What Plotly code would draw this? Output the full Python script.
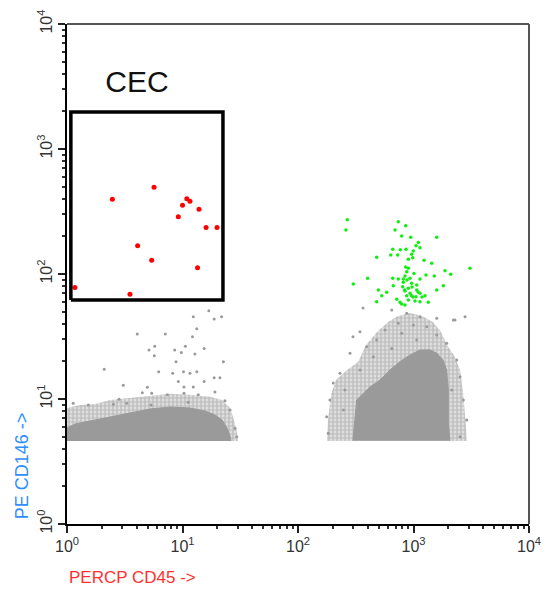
import plotly.graph_objects as go

# ---------------- data ----------------
# CEC gate (PERCP CD45, PE CD146)
gate_x = [1.08, 22.4, 22.4, 1.08, 1.08]
gate_y = [62, 62, 1977, 1977, 62]
gate_label = "CEC"
gate_label_x = [4.04]
gate_label_y = [3311]

# CEC events (red)
cec_x = [2.47, 5.67, 10.9, 11.6, 10.0, 9.2, 13.9, 16.0, 19.9, 4.09, 5.41, 13.5, 1.17, 3.51]
cec_y = [396, 494, 400, 382, 355, 287, 329, 236, 236, 168, 129, 112, 78, 69]

# leukocyte events (green)
leu_x = [267, 260, 738, 856, 692, 790, 946, 1588, 1101, 1051, 1138, 661, 769, 861, 996,
         964, 635, 730, 480, 984, 902, 1233, 1438, 856, 902, 3084, 1875, 873, 1010, 2099,
         1514, 661, 738, 816, 933, 1138, 1283, 401, 816, 964, 1066, 806, 668, 1812, 301,
         902, 1066, 844, 1588, 586, 496, 933, 1138, 1259, 531, 873, 964, 1051, 716, 902,
         1030, 480, 1343, 790, 844, 764, 1138, 839, 971, 1094, 990, 1185, 879, 844]
leu_y = [272, 225, 262, 243, 225, 201, 197, 197, 179, 168, 162, 158, 156, 158, 153,
         144, 142, 142, 136, 135, 131, 129, 122, 114, 111, 111, 106, 104, 101, 99.5,
         96.4, 92.4, 91.2, 91.2, 92.4, 91.2, 98.2, 92.4, 85.9, 84.3, 81.7, 79.1, 80.6, 80.6, 83.2,
         76.9, 74.5, 73.1, 74.5, 71.4, 74.5, 70.1, 70.1, 67.0, 67.0, 67.0, 67.0, 65.8, 62.8, 61.9,
         60.8, 60.0, 59.4, 57.5, 56.5, 59.4, 60.0, 74.5, 78.7, 71.8, 65.5, 65.5, 89.5, 96.4]

# debris population (CD45-negative): dense core outline and sparse fringe outline
neg_core_x = [1.0, 1.0, 1.173, 1.58, 2.36, 3.51, 5.23, 7.80, 11.6, 15.7, 19.1, 22.0, 24.3, 25.8, 26.3]
neg_core_y = [4.61, 5.86, 6.31, 6.67, 7.18, 7.73, 8.32, 8.63, 8.47, 8.02, 7.45, 6.79, 5.86, 5.06, 4.61]
neg_halo_x = [1.0, 1.0, 1.30, 1.75, 2.36, 3.51, 5.23, 7.80, 11.6, 17.3, 22.0, 25.8, 27.9, 29.6, 30.2]
neg_halo_y = [4.61, 8.47, 8.95, 9.12, 9.82, 10.2, 10.6, 11.0, 10.8, 10.4, 9.82, 8.47, 6.79, 5.45, 4.61]

# CD45-positive population: dense core outline and fringe outline
pos_core_x = [299, 322, 420, 513, 626, 764, 933, 1138, 1389, 1588, 1799, 1937, 2001, 2001, 2070]
pos_core_y = [4.64, 9.82, 12.5, 14.2, 17.1, 19.9, 22.5, 24.7, 24.7, 23.3, 20.5, 17.1, 11.8, 6.43, 4.64]
pos_halo_x = [178, 182, 193, 213, 266, 331, 388, 483, 601, 734, 933, 1185, 1475, 1730, 1950,
              2287, 2529, 2685, 2793, 2904]
pos_halo_y = [4.61, 6.79, 10.8, 14.2, 17.1, 19.8, 27.0, 34.4, 41.3, 46.1, 48.8, 46.1, 41.3, 34.4, 27.0,
              21.7, 17.1, 11.4, 7.45, 4.61]

# scattered grey events
grey_x = [16.9, 12.4, 21.8, 18.8, 13.3, 4.06, 7.10, 12.2, 5.75, 10.6, 5.13, 8.56, 9.77, 15.4, 12.8,
          5.70, 22.6, 8.79, 2.10, 6.22, 8.23, 10.2, 11.6, 13.3, 18.8, 21.1, 9.20, 15.4, 3.07, 4.96,
          10.3, 12.4, 4.49, 5.41, 7.39, 10.3, 13.7, 19.1, 2.82, 23.3, 2.52, 5.34, 11.2, 1.13, 1.53,
          3.29, 25.8, 28.5, 29.5,
          2793, 344, 299, 2287, 366, 648, 873, 1138, 1588, 2213, 738, 996, 1301, 567, 790,
          1588, 480, 1066, 1937, 393, 648, 282, 449, 2366, 231, 344, 202, 2529, 189, 2698,
          177, 2890, 183, 2529, 255, 247, 2143]
grey_y = [50.9, 45.6, 45.6, 43.6, 36.5, 33.1, 33.1, 31.5, 26.4, 26.4, 24.7, 24.7, 23.6, 25.4, 22.9,
          22.2, 19.9, 19.9, 17.3, 16.5, 16.1, 16.5, 16.1, 16.5, 14.8, 14.8, 13.8, 13.8, 12.9, 12.4,
          12.5, 12.5, 11.2, 11.1, 10.8, 11.1, 10.8, 11.4, 9.94, 9.69, 9.07, 8.95, 9.41, 9.24, 8.95,
          9.24, 8.17, 5.83, 4.99,
          45.5, 34.5, 31.5, 42.9, 53.5, 51.5, 48.5, 45.5, 44.3, 42.9, 40.4, 39.1, 37.8, 35.6, 33.5,
          32.5, 29.6, 29.6, 27.9, 26.2, 25.4, 23.2, 21.8, 20.5, 16.1, 17.1, 13.4, 15.1, 9.82, 9.82,
          7.22, 6.79, 5.32, 4.99, 11.8, 8.17, 11.8]

# axes
decades = [1, 10, 100, 1000, 10000]
decade_text = ["10<sup>0</sup>", "10<sup>1</sup>", "10<sup>2</sup>", "10<sup>3</sup>", "10<sup>4</sup>"]
minor_vals = [m * d for d in [1, 10, 100, 1000] for m in range(2, 10)]
x_title = "PERCP CD45 ->"
y_title = "PE CD146 ->"

# ---------------- figure ----------------
FONT = "Liberation Sans, Arial, sans-serif"
GREY = "#9a9a9a"

fig = go.Figure()

for hx, hy in [(neg_halo_x, neg_halo_y), (pos_halo_x, pos_halo_y)]:
    fig.add_trace(go.Scatter(x=hx, y=hy, mode="lines", fill="toself",
                             fillcolor="rgba(154,154,154,0.22)", line=dict(width=0),
                             fillpattern=dict(shape=".", fgcolor=GREY, size=4, solidity=0.7),
                             hoverinfo="skip"))
for cx, cy in [(neg_core_x, neg_core_y), (pos_core_x, pos_core_y)]:
    fig.add_trace(go.Scatter(x=cx, y=cy, mode="lines", fill="toself",
                             fillcolor=GREY, line=dict(width=1, color=GREY),
                             hoverinfo="skip"))

fig.add_trace(go.Scatter(x=grey_x, y=grey_y, mode="markers",
                         marker=dict(size=3, color=GREY, line=dict(width=0))))
fig.add_trace(go.Scatter(x=leu_x, y=leu_y, mode="markers",
                         marker=dict(size=3.5, color="#11ee11", line=dict(width=0))))
fig.add_trace(go.Scatter(x=cec_x, y=cec_y, mode="markers",
                         marker=dict(size=5, color="#ff0000", line=dict(width=0))))
fig.add_trace(go.Scatter(x=gate_x, y=gate_y, mode="lines",
                         line=dict(color="black", width=3.5)))
fig.add_trace(go.Scatter(x=gate_label_x, y=gate_label_y, mode="text", text=[gate_label],
                         textposition="middle center",
                         textfont=dict(size=30, color="#111", family=FONT)))

axis_common = dict(
    type="log", range=[0, 4], tickmode="array", tickvals=decades, ticktext=decade_text,
    ticks="outside", ticklen=7, tickwidth=1.5, tickcolor="#222",
    showline=True, linecolor="black", linewidth=2, mirror=False,
    showgrid=False, zeroline=False, automargin=False,
    tickfont=dict(size=16, color="#333", family=FONT),
    minor=dict(ticks="outside", ticklen=3, tickwidth=1.5, tickcolor="#333",
               tickvals=minor_vals, showgrid=False),
)

fig.update_layout(
    width=546, height=590,
    margin=dict(l=67, r=17, t=24, b=66),
    paper_bgcolor="white", plot_bgcolor="white",
    showlegend=False,
    xaxis=dict(**axis_common),
    yaxis=dict(**axis_common, tickangle=-90),
    shapes=[
        dict(type="line", xref="paper", yref="paper", x0=0, x1=1, y0=1, y1=1,
             line=dict(color="#555", width=2)),
        dict(type="line", xref="paper", yref="paper", x0=1, x1=1, y0=0, y1=1,
             line=dict(color="#555", width=2)),
    ],
    annotations=[
        dict(text=x_title, xref="paper", yref="paper", x=0.0, y=-0.106,
             xanchor="left", yanchor="middle", showarrow=False,
             font=dict(size=17, color="#ff3030", family=FONT)),
        dict(text=y_title, xref="paper", yref="paper", x=-0.097, y=0.116,
             xanchor="center", yanchor="middle", textangle=-90, showarrow=False,
             font=dict(size=18, color="#2f8fff", family=FONT)),
    ],
)

fig.write_html("out.html")
